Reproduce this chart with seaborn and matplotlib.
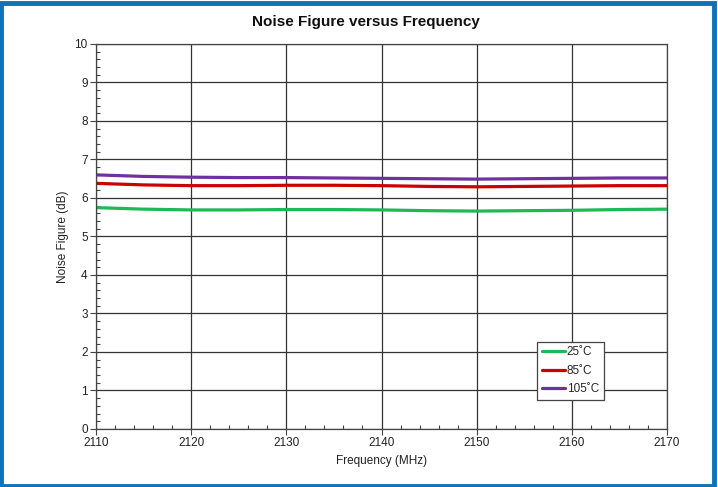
import numpy as np
import pandas as pd
import matplotlib
matplotlib.use("Agg")
import matplotlib.pyplot as plt
from matplotlib.patches import Rectangle
from matplotlib.ticker import MultipleLocator
import seaborn as sns

freq_mhz = [2110, 2115, 2120, 2125, 2130, 2135, 2140, 2145, 2150, 2155, 2160, 2165, 2170]
nf_25c = [5.75, 5.71, 5.69, 5.69, 5.70, 5.70, 5.69, 5.67, 5.66, 5.67, 5.68, 5.70, 5.71]
nf_85c = [6.38, 6.34, 6.32, 6.32, 6.33, 6.33, 6.32, 6.30, 6.29, 6.30, 6.31, 6.32, 6.32]
nf_105c = [6.60, 6.56, 6.54, 6.53, 6.53, 6.52, 6.51, 6.50, 6.49, 6.50, 6.51, 6.52, 6.52]
series_names = ["25˚C", "85˚C", "105˚C"]
series_colors = ["#1DB954", "#CC0000", "#7030A0"]

df = pd.concat([
    pd.DataFrame({"Frequency": freq_mhz, "NF": vals, "Temp": name})
    for name, vals in zip(series_names, [nf_25c, nf_85c, nf_105c])
])

sns.set_theme(style="white")
plt.rcParams["font.family"] = ["Liberation Sans", "DejaVu Sans"]

fig = plt.figure(figsize=(7.18, 4.87), dpi=100)
ax = fig.add_axes([0.1337, 0.1191, 0.929 - 0.1337, 0.9097 - 0.1191])

sns.lineplot(data=df, x="Frequency", y="NF", hue="Temp", palette=series_colors,
             hue_order=series_names, linewidth=2.3, ax=ax, legend=True)

ax.set_xlim(2110, 2170)
ax.set_ylim(0, 10)
ax.xaxis.set_major_locator(MultipleLocator(10))
ax.xaxis.set_minor_locator(MultipleLocator(2))
ax.yaxis.set_major_locator(MultipleLocator(1))
ax.yaxis.set_minor_locator(MultipleLocator(0.2))
ax.grid(True, which="major", color="#333333", linewidth=0.9)
ax.set_axisbelow(True)
for s in ax.spines.values():
    s.set_color("#444444")
    s.set_linewidth(0.9)
ax.tick_params(axis="both", which="major", direction="out", length=4, width=0.8,
               color="#444444", labelsize=8.5, labelcolor="#222222", pad=2)
ax.tick_params(axis="both", which="minor", direction="in", length=3, width=0.8,
               color="#444444")
ax.tick_params(bottom=True, left=True, which="both")

ax.set_xlabel("Frequency (MHz)", fontsize=8.5, color="#222222", labelpad=4)
ax.set_ylabel("Noise Figure (dB)", fontsize=8.5, color="#222222", labelpad=4)
fig.text(0.509, 0.955, "Noise Figure versus Frequency", ha="center", va="center",
         fontsize=11, fontweight="bold", color="#111111")

leg = ax.legend(loc="lower left", bbox_to_anchor=(0.772, 0.075), fontsize=8.5,
                frameon=True, fancybox=False, handlelength=2.0, handletextpad=0.15,
                borderpad=0.4, labelspacing=0.55, borderaxespad=0)
leg.get_frame().set_edgecolor("#444444")
leg.get_frame().set_linewidth(0.9)
leg.get_frame().set_alpha(1)
for line in leg.get_lines():
    line.set_linewidth(2.3)

fig.patches.append(Rectangle((0.002, 0.003), 0.993, 0.991, transform=fig.transFigure,
                             fill=False, edgecolor="#0E72B8", linewidth=3.5))

fig.savefig("out.png", dpi=100)
